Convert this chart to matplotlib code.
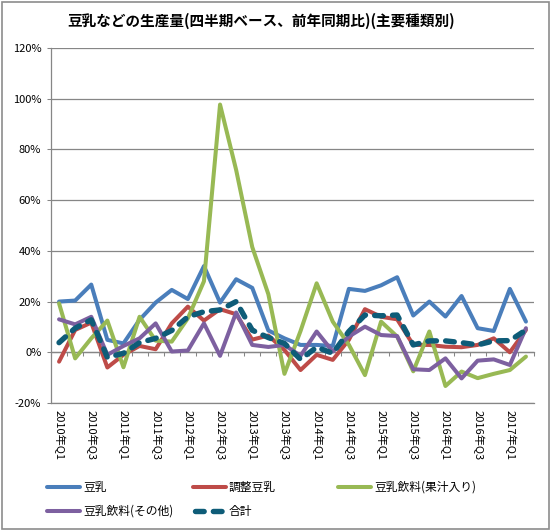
import matplotlib
matplotlib.use('Agg')
import matplotlib.pyplot as plt
from matplotlib.lines import Line2D
from matplotlib.patches import Rectangle
import numpy as np

plt.rcParams['font.family'] = ['Noto Sans CJK JP', 'DejaVu Sans']

title = '豆乳などの生産量(四半期ベース、前年同期比)(主要種類別)'

quarters = ['2010年Q1', '2010年Q2', '2010年Q3', '2010年Q4',
            '2011年Q1', '2011年Q2', '2011年Q3', '2011年Q4',
            '2012年Q1', '2012年Q2', '2012年Q3', '2012年Q4',
            '2013年Q1', '2013年Q2', '2013年Q3', '2013年Q4',
            '2014年Q1', '2014年Q2', '2014年Q3', '2014年Q4',
            '2015年Q1', '2015年Q2', '2015年Q3', '2015年Q4',
            '2016年Q1', '2016年Q2', '2016年Q3', '2016年Q4',
            '2017年Q1', '2017年Q2']

# 前年同期比 (%)
tonyu = [20.0, 20.4, 26.7, 4.9, 3.5, 12.8, 19.6, 24.6, 21.0, 34.0,
         19.6, 28.8, 25.4, 8.6, 5.5, 2.9, 2.9, 2.5, 25.0, 24.2,
         26.4, 29.6, 14.5, 20.0, 14.1, 22.2, 9.5, 8.4, 25.0, 12.1]
chosei = [-3.7, 8.8, 11.7, -6.0, -1.0, 2.5, 1.2, 11.4, 18.0, 12.5,
          17.0, 15.0, 5.0, 6.6, 0.9, -7.0, -1.0, -3.0, 4.9, 17.0,
          14.0, 13.0, 2.9, 2.9, 2.2, 2.0, 2.9, 5.5, 0.0, 8.8]
kaju = [19.3, -2.4, 5.5, 12.5, -5.9, 14.0, 4.6, 4.2, 13.4, 28.0,
        97.7, 71.9, 41.5, 22.9, -8.5, 8.4, 27.2, 12.1, 3.0, -9.0,
        12.1, 6.2, -7.5, 8.2, -13.3, -7.6, -10.2, -8.5, -7.0, -1.7]
sonota = [13.0, 11.0, 14.0, -1.0, 2.5, 5.5, 11.4, 0.3, 0.7, 11.4,
          -1.4, 15.7, 2.9, 2.1, 2.9, -1.4, 8.2, 0.3, 6.2, 10.1,
          6.8, 6.4, -6.7, -7.0, -2.4, -10.3, -3.3, -2.8, -5.0, 9.5]
total = [3.8, 9.5, 12.8, -2.0, -0.4, 3.8, 5.5, 8.6, 14.0, 16.0,
         16.7, 20.0, 8.7, 5.8, 3.5, -2.8, 2.0, -0.4, 8.2, 14.7,
         14.4, 14.7, 2.9, 4.5, 4.5, 3.8, 2.9, 4.5, 4.6, 8.8]

names = ['豆乳', '調整豆乳', '豆乳飲料(果汁入り)', '豆乳飲料(その他)', '合計']
colors = ['#4A7EBB', '#BE4B48', '#98B954', '#7D60A0', '#0E5C78']

grid_c = '#868686'
dash_pat = (1.6, 1.7)

fig = plt.figure(figsize=(5.51, 5.32), dpi=100)
ax = fig.add_axes([51 / 551, 1 - 403 / 532, 483 / 551, 355 / 532])

x = np.arange(len(quarters))
series = [tonyu, chosei, kaju, sonota]
for vals, name, c in zip(series, names[:4], colors[:4]):
    ax.plot(x, vals, color=c, lw=2.9, solid_capstyle='round',
            solid_joinstyle='round', label=name)
ax.plot(x, total, color=colors[4], lw=3.9, dashes=dash_pat,
        dash_capstyle='round', label=names[4])

ymin, ymax = -20, 120
ax.set_xlim(-0.5, len(quarters) - 0.5)
ax.set_ylim(ymin, ymax)
ax.set_yticks(np.arange(-20, 121, 20))
ax.set_yticklabels(['{}%'.format(v) for v in range(-20, 121, 20)])
ax.set_xticks(x[::2])
ax.set_xticklabels(quarters[::2], rotation=-90, va='top', ha='center')
ax.tick_params(axis='x', length=0, pad=5, labelsize=8)
ax.tick_params(axis='y', length=3, width=0.75, color=grid_c, pad=4, labelsize=8)
ax.yaxis.grid(True, color=grid_c, lw=0.9)
ax.set_axisbelow(True)
for s in ['top', 'right']:
    ax.spines[s].set_visible(False)
for s in ['left', 'bottom']:
    ax.spines[s].set_color(grid_c)
    ax.spines[s].set_linewidth(0.9)

# category axis crossing at 0%
sec = ax.secondary_xaxis((0 - ymin) / (ymax - ymin))
sec.set_xticks(np.arange(-0.5, len(quarters), 1.0))
sec.set_xticklabels([])
sec.tick_params(direction='out', length=3, width=0.75, color=grid_c)
sec.spines['bottom'].set_color(grid_c)
sec.spines['bottom'].set_linewidth(0.9)

fig.text(261 / 551, 1 - 21 / 532, title, ha='center', va='center',
         fontsize=10.5, fontweight='bold')

# legend
leg_pos = [(47, 487), (193, 487), (338, 487), (47, 511), (193, 511)]
for i, (name, c) in enumerate(zip(names, colors)):
    px, py = leg_pos[i]
    yy = 1 - py / 532
    if i == 4:
        ln = Line2D([(px + 2) / 551, (px + 33) / 551], [yy, yy], transform=fig.transFigure,
                    color=c, lw=3.9, dashes=dash_pat, dash_capstyle='round')
    else:
        ln = Line2D([px / 551, (px + 33) / 551], [yy, yy], transform=fig.transFigure,
                    color=c, lw=2.9, solid_capstyle='round')
    fig.lines.append(ln)
    fig.text((px + 36) / 551, yy, name, ha='left', va='center', fontsize=8.5)

fig.patches.append(Rectangle((1.5 / 551, 3 / 532), 547.5 / 551, 527.5 / 532,
                             transform=fig.transFigure, fill=False,
                             ec='#8C8C8C', lw=1.2))

fig.savefig('out.png', dpi=100)
